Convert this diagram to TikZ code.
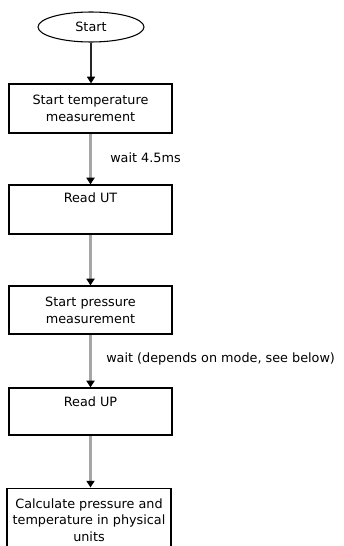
\documentclass[tikz,border=0pt]{standalone}
\usepackage{fontspec}
\setmainfont{DejaVu Sans}
\usetikzlibrary{shapes.geometric,arrows.meta}
\begin{document}
\begin{tikzpicture}[x=0.75pt,y=-0.75pt,
  font=\fontsize{9.6}{12.6}\selectfont,
  box/.style={draw=black,line width=0.9pt,rectangle,inner sep=0pt,minimum width=163*0.75pt,align=center},
  term/.style={draw=black,line width=0.8pt,ellipse,inner sep=0pt,minimum width=106*0.75pt,minimum height=30*0.75pt},
  tip/.style={-{Triangle[width=6pt,length=5pt,fill=black,color=black]}},
  flow/.style={draw=black!35,line width=1.6pt,tip},
  flowdark/.style={draw=black!85,line width=0.9pt,tip},
  lbl/.style={anchor=base west,inner sep=0pt}
]
\clip (0,0) rectangle (343,546);
\fill[white] (0,0) rectangle (343,546);
\node[term] (start) at (91,27) {Start};
\node[box,minimum height=49*0.75pt] (b1) at (90.5,108.5) {Start temperature\\measurement};
\node[box,minimum height=49*0.75pt,label={[anchor=base,inner sep=0pt,yshift=-13.5pt]north:Read UT}] (b2) at (90.5,209.5) {};
\node[box,minimum height=48*0.75pt] (b3) at (90.5,310) {Start pressure\\measurement};
\node[box,minimum height=47*0.75pt,label={[anchor=base,inner sep=0pt,yshift=-14pt]north:Read UP}] (b4) at (90.5,411.5) {};
\node[box,line width=1pt,minimum height=80*0.75pt,minimum width=164*0.75pt,anchor=north,
  label={[anchor=north,inner sep=0pt,align=center,yshift=-8pt]north:Calculate pressure and\\temperature in physical\\units}] (b5) at (89,487.5) {};
\node[lbl] (w1) at (110,162) {wait 4.5ms};
\node[lbl] (w2) at (106,362) {wait (depends on mode, see below)};
\draw[flowdark] (start) -- (start.south |- b1.north);
\draw[flow] (b1) -- (b2);
\draw[flow] (b2) -- (b3);
\draw[flow] (b3) -- (b4);
\draw[flow] (b4.south) -- (b4.south |- b5.north);
\end{tikzpicture}
\end{document}
